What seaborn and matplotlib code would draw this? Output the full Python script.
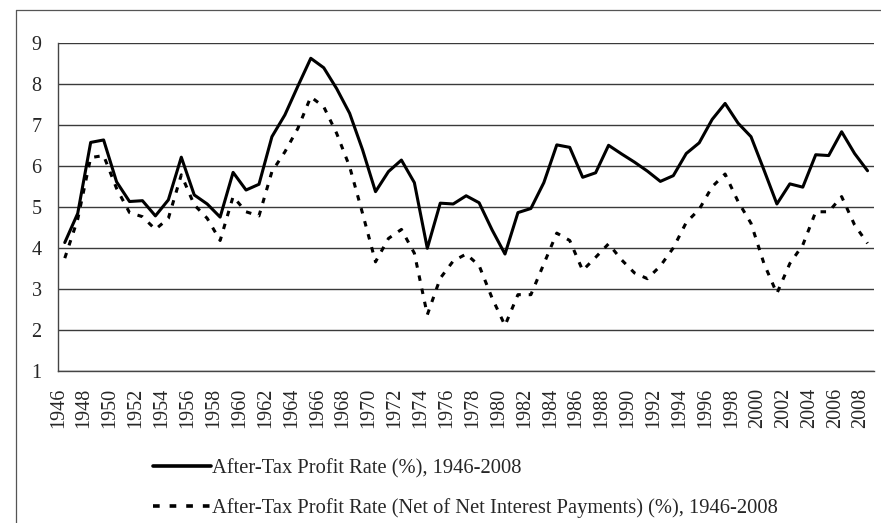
import numpy as np
import pandas as pd
import matplotlib
matplotlib.use('Agg')
import matplotlib.pyplot as plt
from matplotlib.lines import Line2D
import seaborn as sns

# data
years = list(range(1946, 2009))
profit_rate = [4.13, 4.84, 6.57, 6.63, 5.61, 5.13, 5.15, 4.78, 5.17, 6.21,
               5.29, 5.07, 4.75, 5.84, 5.41, 5.55, 6.71, 7.24, 7.94, 8.62,
               8.39, 7.88, 7.28, 6.39, 5.37, 5.86, 6.14, 5.59, 3.99, 5.09,
               5.07, 5.27, 5.10, 4.44, 3.85, 4.86, 4.96, 5.59, 6.51, 6.45,
               5.72, 5.83, 6.50, 6.29, 6.09, 5.87, 5.62, 5.76, 6.30, 6.56,
               7.13, 7.52, 7.04, 6.71, 5.90, 5.07, 5.56, 5.48, 6.27, 6.25,
               6.83, 6.30, 5.88]
profit_rate_net = [3.75, 4.70, 6.20, 6.25, 5.45, 4.86, 4.76, 4.45, 4.72, 5.78,
                   5.05, 4.72, 4.18, 5.25, 4.88, 4.78, 5.86, 6.34, 6.91, 7.68,
                   7.44, 6.79, 5.98, 4.84, 3.66, 4.23, 4.45, 3.87, 2.37, 3.26,
                   3.68, 3.85, 3.57, 2.78, 2.11, 2.86, 2.86, 3.61, 4.36, 4.18,
                   3.45, 3.77, 4.10, 3.71, 3.39, 3.25, 3.56, 4.00, 4.62, 4.94,
                   5.49, 5.80, 5.13, 4.60, 3.62, 2.89, 3.62, 4.07, 4.88, 4.88,
                   5.25, 4.56, 4.11]
y_ticks = [1, 2, 3, 4, 5, 6, 7, 8, 9]
label_solid = "After-Tax Profit Rate (%), 1946-2008"
label_dashed = "After-Tax Profit Rate (Net of Net Interest Payments) (%), 1946-2008"

df = pd.DataFrame({'year': years, 'solid': profit_rate, 'net': profit_rate_net})

sns.set_style('white')
plt.rcParams['font.family'] = ['Liberation Serif', 'DejaVu Serif']

fig = plt.figure(figsize=(8.81, 5.23), dpi=100)
ax = fig.add_axes([58.3 / 881, 1 - 371 / 523, (874 - 58.3) / 881, (371 - 42.7) / 523])

dash = (0, (1.8, 2.6))
sns.lineplot(data=df, x='year', y='solid', ax=ax, color='black', lw=2.2)
sns.lineplot(data=df, x='year', y='net', ax=ax, color='black', lw=2.2, linestyle=dash)

ax.set_xlim(years[0] - 0.5, years[-1] + 0.5)
ax.set_ylim(y_ticks[0], y_ticks[-1])
ax.set_yticks(y_ticks)
ax.set_yticklabels([str(v) for v in y_ticks])

# Excel-style category axis: ticks on category boundaries, every other year
tick_years = years[::2]
ax.set_xticks([y - 0.5 for y in tick_years])
ax.set_xticklabels([str(y) for y in tick_years], rotation=90)
ax.set_xlabel('')
ax.set_ylabel('')

ax.grid(axis='y', color='#3a3a3a', lw=1.0)
ax.grid(axis='x', visible=False)
ax.set_axisbelow(True)
for side in ['top', 'right']:
    ax.spines[side].set_visible(False)
for side in ['left', 'bottom']:
    ax.spines[side].set_color('#444444')
    ax.spines[side].set_linewidth(1.0)
ax.tick_params(axis='both', direction='out', length=6, width=1, color='#444444',
               labelsize=14.5, pad=6)

handles = [Line2D([], [], color='black', lw=2.6),
           Line2D([], [], color='black', lw=2.6, linestyle=(0, (1.85, 2.75)))]
fig.legend(handles, [label_solid, label_dashed], loc='upper left',
           bbox_to_anchor=(153 / 881, 1 - 459 / 523), frameon=False,
           fontsize=14.8, handlelength=2.8, handletextpad=0.05,
           labelspacing=0.98, borderpad=0, borderaxespad=0)

# outer chart border (left and top edges visible in the reference)
fig.add_artist(Line2D([16 / 881, 16 / 881], [0, 1 - 10 / 523],
                      transform=fig.transFigure, color='#555555', lw=0.9))
fig.add_artist(Line2D([16 / 881, 1], [1 - 10 / 523, 1 - 10 / 523],
                      transform=fig.transFigure, color='#555555', lw=0.9))

fig.savefig('out.png', dpi=100)
plt.close(fig)
